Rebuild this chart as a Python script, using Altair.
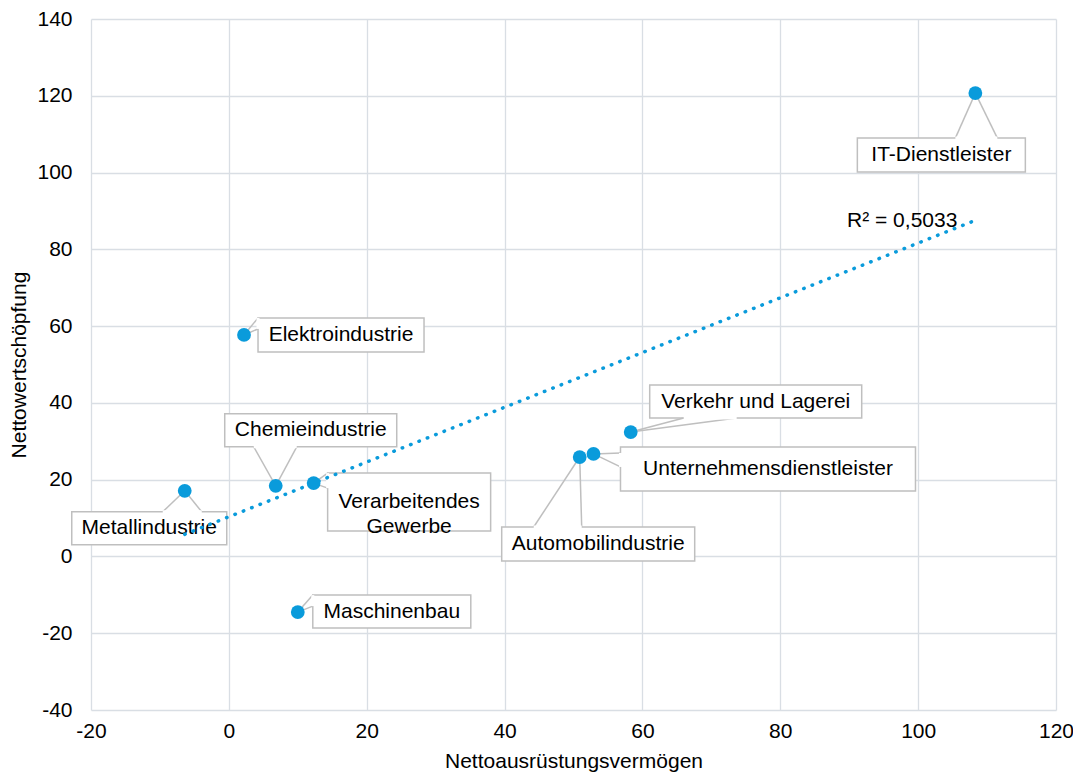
import altair as alt
import pandas as pd
import numpy as np

# ---------------- data ----------------
names = ["Metallindustrie", "Elektroindustrie", "Chemieindustrie",
         "Verarbeitendes\nGewerbe", "Maschinenbau", "Automobilindustrie",
         "Unternehmensdienstleister", "Verkehr und Lagerei", "IT-Dienstleister"]
x_vals = [-6.4, 2.2, 6.8, 12.3, 10.0, 50.9, 52.9, 58.3, 108.3]
y_vals = [17.1, 57.7, 18.4, 19.1, -14.5, 25.9, 26.7, 32.4, 120.7]

x_ticks = [-20, 0, 20, 40, 60, 80, 100, 120]
y_ticks = [-40, -20, 0, 20, 40, 60, 80, 100, 120, 140]
x_title = "Nettoausrüstungsvermögen"
y_title = "Nettowertschöpfung"
r2_text = "R² = 0,5033"

# ---------------- layout ----------------
W, H = 965, 691
X_DOM = [-20, 120]
Y_DOM = [-40, 140]
PX_X = W / (X_DOM[1] - X_DOM[0])
PX_Y = H / (Y_DOM[1] - Y_DOM[0])

FONT = "Arial, Liberation Sans, sans-serif"
FS = 21
BLUE = "#0A9BDB"
GRID = "#D9DEE4"
BOX = "#BFBFBF"

# callout boxes: (left, right, top, bottom) pixel offsets from marker,
# pointer side and pointer base range (pixels along that side)
callouts = [
    ((-113, 42, 21, 54), ("top", -22, 17)),
    ((14, 180, -17, 17), ("left", -17, -6)),
    ((-51, 121, -72, -39), ("bottom", -22, 21)),
    ((14, 177, -10, 48), ("left", -10, 5)),
    ((15, 173, -17, 16), ("left", -17, -6)),
    ((-78, 115, 70, 104), ("top", -46, 2)),
    ((27, 322, -7, 37), ("left", -1, 13)),
    ((19, 231, -47, -14), ("bottom", 53, 106)),
    ((-118, 50, 45, 79), ("top", -20, 22)),
]
R2_OFFSET = (-18, 7)  # px from regression line end (right-aligned text, baseline)

# ---------------- tables ----------------
pts = pd.DataFrame({"name": names, "x": x_vals, "y": y_vals})

boxes, sides, bases = [], [], []
for (nm, xv, yv), ((L, R, T, B), (side, a, b)) in zip(zip(names, x_vals, y_vals), callouts):
    x1, x2 = xv + L / PX_X, xv + R / PX_X
    y1, y2 = yv - T / PX_Y, yv - B / PX_Y
    boxes.append({"name": nm, "x1": x1, "x2": x2, "y1": y1, "y2": y2,
                  "cx": (x1 + x2) / 2, "cy": (y1 + y2) / 2})
    if side in ("top", "bottom"):
        ey = y1 if side == "top" else y2
        p1 = (xv + a / PX_X, ey)
        p2 = (xv + b / PX_X, ey)
    else:
        ex = x1 if side == "left" else x2
        p1 = (ex, yv - a / PX_Y)
        p2 = (ex, yv - b / PX_Y)
    for p in (p1, p2):
        sides.append({"x": xv, "y": yv, "x2": p[0], "y2": p[1]})
    bases.append({"x": p1[0], "y": p1[1], "x2": p2[0], "y2": p2[1]})

boxes = pd.DataFrame(boxes)
sides = pd.DataFrame(sides)
bases = pd.DataFrame(bases)

slope, icpt = np.polyfit(x_vals, y_vals, 1)
xe = max(x_vals)
r2 = pd.DataFrame({"t": [r2_text],
                   "x": [xe + R2_OFFSET[0] / PX_X],
                   "y": [slope * xe + icpt - R2_OFFSET[1] / PX_Y]})

xs = alt.Scale(domain=X_DOM, nice=False, zero=False)
ys = alt.Scale(domain=Y_DOM, nice=False, zero=False)
xax = alt.Axis(values=x_ticks, title=x_title, labelPadding=10, titlePadding=9,
               labelFlush=False, labelExpr="'' + datum.value")
yax = alt.Axis(values=y_ticks, title=y_title, labelPadding=19, titlePadding=7,
               labelFlush=False, labelExpr="'' + datum.value")

X = lambda f="x": alt.X(f"{f}:Q", scale=xs, axis=xax)
Y = lambda f="y": alt.Y(f"{f}:Q", scale=ys, axis=yax)

box_layer = alt.Chart(boxes).mark_rect(fill="white", stroke=BOX, strokeWidth=1.5).encode(
    x=X("x1"), x2="x2", y=Y("y1"), y2="y2")
base_layer = alt.Chart(bases).mark_rule(color="white", strokeWidth=3).encode(
    x=X("x"), y=Y("y"), x2="x2", y2="y2")
side_layer = alt.Chart(sides).mark_rule(color=BOX, strokeWidth=1.5).encode(
    x=X("x"), y=Y("y"), x2="x2", y2="y2")
text_layer = alt.Chart(boxes).mark_text(font=FONT, fontSize=FS, color="black",
                                        lineBreak="\n", lineHeight=25,
                                        align="center", baseline="middle").encode(
    x=X("cx"), y=Y("cy"), text="name:N")
trend = alt.Chart(pts).transform_regression("x", "y").mark_line(
    color=BLUE, strokeWidth=3.5, strokeDash=[0.5, 8.5], strokeCap="round").encode(
    x=X("x"), y=Y("y"))
r2_layer = alt.Chart(r2).mark_text(font=FONT, fontSize=FS, color="black",
                                   align="right", baseline="alphabetic").encode(
    x=X("x"), y=Y("y"), text="t:N")
dots = alt.Chart(pts).mark_circle(color=BLUE, size=190, opacity=1).encode(
    x=X("x"), y=Y("y"))

chart = alt.layer(box_layer, side_layer, base_layer, text_layer, trend, r2_layer, dots).properties(
    width=W, height=H,
    autosize=alt.AutoSizeParams(type="none"),
    padding={"left": 83, "top": 11, "right": 17, "bottom": 64},
).configure_view(stroke=None).configure_axis(
    grid=True, gridColor=GRID, gridWidth=1.3, domain=False, ticks=False,
    labelFont=FONT, labelFontSize=FS, labelColor="#000000",
    titleFont=FONT, titleFontSize=FS, titleFontWeight="normal", titleColor="#000000",
)

chart.save("out.html", embed_options={"renderer": "svg", "actions": False})
